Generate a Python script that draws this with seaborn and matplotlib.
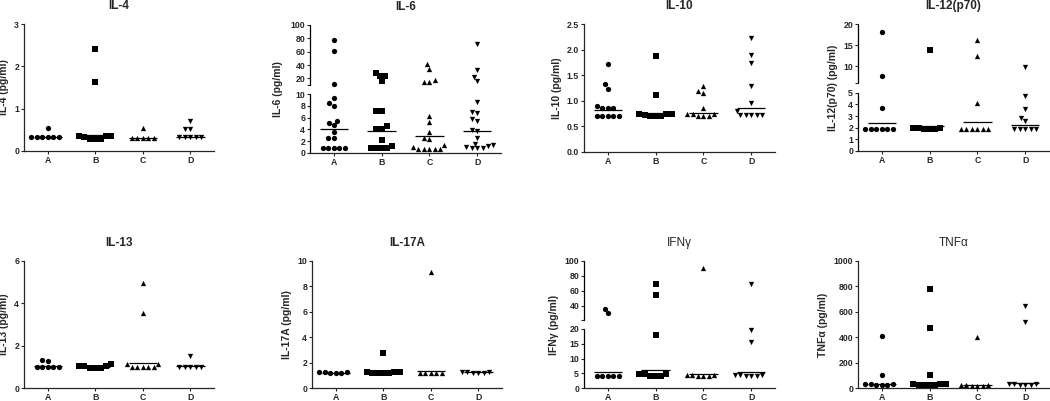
import numpy as np
import pandas as pd
import matplotlib
matplotlib.use("Agg")
import matplotlib.pyplot as plt
import seaborn as sns

# Grupos y marcadores (estilo Prism)
grupos = ["A", "B", "C", "D"]
marcadores = ["o", "s", "^", "v"]

# Valores (pg/ml)
il4_a = [0.55] + [0.32] * 6
il4_b = [2.42, 1.62] + [0.29, 0.35] * 3 + [0.32]
il4_c = [0.55] + [0.30] * 5
il4_d = [0.70, 0.52, 0.52] + [0.32] * 5
il4_linea = [0.32, 0.37, 0.31, 0.34]

il6_a = [77, 61, 11, 9.3, 8.5, 8.0, 5.5, 5.1, 4.8, 3.6, 2.6, 2.5] + [0.8] * 5
il6_b = [28, 23, 23, 15.5, 7.2, 7.2, 4.5, 4.1, 4.1, 2.2, 1.2] + [0.8] * 4
il6_c = [41, 34, 17, 15, 15, 6.2, 5.3, 3.5, 2.5, 2.3, 1.4, 1.1] + [0.7] * 5
il6_d = [72, 33, 22, 16, 8.6, 7.0, 6.8, 5.8, 5.4, 3.9, 3.7, 2.5, 1.6, 1.4, 1.2,
         1.0] + [0.8] * 3
il6_linea = [4.1, 3.7, 2.8, 3.7]

il10_a = [1.72, 1.33, 1.24, 0.90, 0.85, 0.85, 0.85] + [0.70] * 5
il10_b = [1.88, 1.11] + [0.70, 0.75] * 3 + [0.72]
il10_c = [1.28, 1.19, 1.15, 0.85] + [0.70, 0.74] * 3
il10_d = [2.23, 1.89, 1.73, 1.29, 0.95, 0.80] + [0.72] * 5
il10_linea = [0.83, 0.77, 0.77, 0.85]

il12_a = [18, 7.7, 3.7] + [1.9] * 6
il12_b = [13.8] + [1.85, 2.0] * 3
il12_c = [16.2, 12.5, 4.1] + [1.9] * 6
il12_d = [9.9, 4.7, 3.6, 2.8, 2.55] + [1.9] * 5
il12_linea = [2.43, 2.11, 2.45, 2.26]

il13_a = [1.28, 1.32] + [1.0] * 5
il13_b = [1.12] + [0.95, 1.02] * 3
il13_c = [4.95, 3.55, 1.15, 1.12] + [1.0] * 5
il13_d = [1.5] + [1.0] * 5
il13_linea = [1.05, 1.0, 1.18, 1.04]

il17_a = [1.15, 1.25] * 3
il17_b = [2.75] + [1.15, 1.25] * 3 + [1.2]
il17_c = [9.1] + [1.2] * 5
il17_d = [1.15, 1.25] * 3
il17_linea = [1.2, 1.25, 1.31, 1.25]

ifn_a = [36, 30] + [4.2] * 5
ifn_b = [69, 55, 18] + [4.0, 4.6] * 3
ifn_c = [90] + [4.0, 4.4] * 3
ifn_d = [69, 19.6, 15.5] + [4.0, 4.5] * 3
ifn_linea = [5.3, 6.2, 4.7, 5.4]

tnf_a = [410, 105] + [20, 30] * 3
tnf_b = [780, 470, 105] + [20, 32] * 3 + [26]
tnf_c = [405] + [15, 25] * 3
tnf_d = [648, 518] + [20, 32] * 3
tnf_linea = [34, 40, 25, 38]

sns.set_style("ticks")
plt.rcParams["font.family"] = ["Liberation Sans", "DejaVu Sans"]

W, H = 1050, 401
fig = plt.figure(figsize=(W / 100, H / 100), dpi=100)


def caja(l, t, r, b):
    return [l / W, 1 - b / H, (r - l) / W, (b - t) / H]


def escala_cortada(b1, b2, top, h1, h2, alto):
    # eje con corte: [0,b1] abajo y [b2,top] arriba
    s1 = h1 / b1
    s2 = (alto - h2) / (top - b2)
    xp = [-100 * top, 0, b1, b2, top, 100 * top]
    fp = [-100 * top * s1, 0, h1, h2, alto, alto + 99 * top * s2]
    return (lambda y: np.interp(y, xp, fp), lambda z: np.interp(z, fp, xp))


def panel(pos, titulo, ylabel, valores, lineas, ticks, etiquetas, top,
          label_px, corte=None, titulo_bold="bold"):
    l, t, r, b = pos
    ax = fig.add_axes(caja(l, t, r, b))
    df = pd.DataFrame({
        "grupo": [g for g, v in zip(grupos, valores) for _ in v],
        "valor": [x for v in valores for x in v],
    })
    if corte is not None:
        b1, b2, h1, h2 = corte
        ax.set_yscale("function", functions=escala_cortada(b1, b2, top, h1, h2, b - t))

    for g, m in zip(grupos, marcadores):
        sns.swarmplot(data=df[df["grupo"] == g], x="grupo", y="valor", order=grupos,
                      color="black", marker=m, size=3.8, ax=ax, warn_thresh=1)

    # linea de la media geometrica
    xs = np.arange(len(grupos))
    ax.hlines(lineas, xs - 0.3, xs + 0.3, color="black", lw=0.9, zorder=3)

    ax.set_xlim(-0.5, 3.5)
    ax.set_ylim(0, top)
    ax.set_yticks(ticks, etiquetas)
    ax.set_xticks(xs, grupos)
    ax.set_xlabel("")
    ax.set_ylabel(ylabel, fontsize=7.5, fontweight="bold")
    ax.yaxis.set_label_coords((label_px - l) / (r - l), 0.5)
    ax.set_title(titulo, fontsize=8.5, fontweight=titulo_bold, pad=11)
    ax.tick_params(axis="both", labelsize=6.3, length=2, width=0.8, pad=1.5)
    for lab in ax.get_xticklabels() + ax.get_yticklabels():
        lab.set_fontweight("bold")
    sns.despine(ax=ax)
    for s in ["left", "bottom"]:
        ax.spines[s].set_linewidth(0.9)
    if corte is not None:
        b1, b2 = corte[0], corte[1]
        ax.spines["left"].set_visible(False)
        tr = ax.get_yaxis_transform()
        ax.plot([0, 0], [0, b1], transform=tr, color="black", lw=0.9, clip_on=False)
        ax.plot([0, 0], [b2, top], transform=tr, color="black", lw=0.9, clip_on=False)
    return ax


panel((24, 24, 214, 151), "IL-4", "IL-4 (pg/ml)",
      [il4_a, il4_b, il4_c, il4_d], il4_linea,
      [0, 1, 2, 3], ["0", "1", "2", "3"], 3, 9)

panel((310, 25, 501, 153), "IL-6", "IL-6 (pg/ml)",
      [il6_a, il6_b, il6_c, il6_d], il6_linea,
      [0, 2, 4, 6, 8, 10, 10.05, 20, 40, 60, 80, 100],
      ["0", "2", "4", "6", "8", "10", "", "20", "40", "60", "80", "100"], 100, 283,
      corte=(10, 10.05, 59, 68))

panel((584, 24, 775, 152), "IL-10", "IL-10 (pg/ml)",
      [il10_a, il10_b, il10_c, il10_d], il10_linea,
      [0, 0.5, 1.0, 1.5, 2.0, 2.5], ["0.0", "0.5", "1.0", "1.5", "2.0", "2.5"], 2.5, 562)

panel((858, 24, 1049, 151), "IL-12(p70)", "IL-12(p70) (pg/ml)",
      [il12_a, il12_b, il12_c, il12_d], il12_linea,
      [0, 1, 2, 3, 4, 5, 6, 10, 15, 20],
      ["0", "1", "2", "3", "4", "5", "", "10", "15", "20"], 20, 838,
      corte=(5, 6, 58.3, 68))

panel((24, 261, 214, 388), "IL-13", "IL-13 (pg/ml)",
      [il13_a, il13_b, il13_c, il13_d], il13_linea,
      [0, 2, 4, 6], ["0", "2", "4", "6"], 6, 9)

panel((312, 261, 502, 388), "IL-17A", "IL-17A (pg/ml)",
      [il17_a, il17_b, il17_c, il17_d], il17_linea,
      [0, 2, 4, 6, 8, 10], ["0", "2", "4", "6", "8", "10"], 10, 292)

panel((584, 261, 775, 388), "IFNγ", "IFNγ (pg/ml)",
      [ifn_a, ifn_b, ifn_c, ifn_d], ifn_linea,
      [0, 5, 10, 15, 20, 21, 40, 60, 80, 100],
      ["0", "5", "10", "15", "20", "", "40", "60", "80", "100"], 100, 559,
      corte=(20, 21, 59, 68), titulo_bold="normal")

panel((858, 261, 1049, 388), "TNFα", "TNFα (pg/ml)",
      [tnf_a, tnf_b, tnf_c, tnf_d], tnf_linea,
      [0, 200, 400, 600, 800, 1000], ["0", "200", "400", "600", "800", "1000"], 1000, 828,
      titulo_bold="normal")

plt.savefig("out.png", dpi=100)
plt.close()
